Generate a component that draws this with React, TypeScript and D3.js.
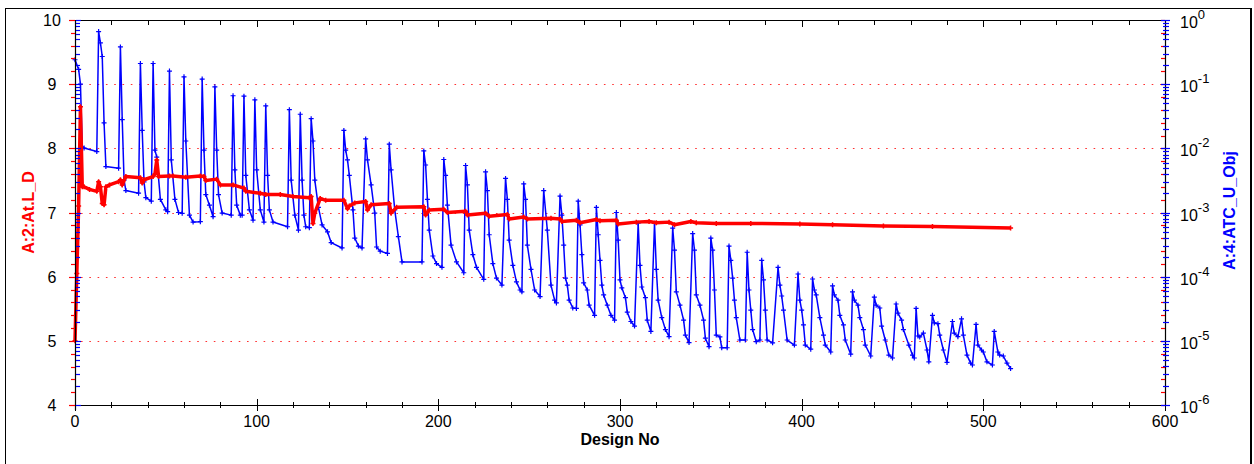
import React from "react";
import * as d3 from "d3";

const W = 1254;
const H = 464;

const xTickValues = [0, 100, 200, 300, 400, 500, 600];
const leftTickValues = [4, 5, 6, 7, 8, 9, 10];
const rightTickExponents = [0, -1, -2, -3, -4, -5, -6];
const xTitle = "Design No";
const leftTitle = "A:2:At.L_D";
const rightTitle = "A:4:ATC_U_Obj";

// A:2:At.L_D  (left axis, linear)
const redSeries: [number, number][] = [
  [0, 5.0], [1, 6.05], [2, 7.1], [3, 8.65], [4, 7.4], [5, 7.4], [8, 7.36], [12, 7.33], [13, 7.48],
  [14, 7.4], [15, 7.14], [16, 7.12], [17, 7.4], [19, 7.43], [24, 7.48], [25, 7.51], [26, 7.43],
  [28, 7.56], [36, 7.54], [37, 7.46], [38, 7.51], [43, 7.56], [44, 7.6], [45, 7.82], [46, 7.56],
  [52, 7.57], [54, 7.57], [61, 7.55], [69, 7.57], [71, 7.56], [72, 7.5], [78, 7.52], [80, 7.43],
  [87, 7.43], [93, 7.38], [94, 7.33], [102, 7.3], [105, 7.28], [113, 7.28], [120, 7.25], [129, 7.23],
  [130, 7.25], [131, 6.83], [132, 6.99], [135, 7.22], [138, 7.19], [148, 7.19], [150, 7.06],
  [151, 7.1], [154, 7.15], [160, 7.17], [161, 7.04], [163, 7.12], [173, 7.14], [174, 6.99],
  [177, 7.08], [192, 7.09], [193, 6.96], [195, 7.04], [203, 7.05], [205, 7.0], [215, 7.02],
  [216, 6.96], [226, 6.99], [228, 6.94], [238, 6.97], [239, 6.9], [247, 6.93], [249, 6.9],
  [262, 6.91], [267, 6.9], [268, 6.86], [276, 6.88], [278, 6.84], [287, 6.89], [289, 6.87],
  [298, 6.88], [299, 6.82], [309, 6.85], [316, 6.86], [320, 6.84], [327, 6.85], [330, 6.81],
  [339, 6.86], [342, 6.84], [353, 6.83], [372, 6.83], [399, 6.82], [417, 6.81], [445, 6.79],
  [472, 6.78], [515, 6.76],
];

// A:4:ATC_U_Obj  (right axis, log)
const blueSeries: [number, number][] = [
  [0, 0.24], [2, 0.17], [3, 0.1], [4, 0.0105], [5, 0.0101], [12, 0.0089],
  [13, 0.66], [14, 0.44], [15, 0.27], [16, 0.025], [17, 0.0052], [24, 0.0049],
  [25, 0.38], [26, 0.028], [27, 0.0032], [28, 0.0022], [35, 0.002],
  [36, 0.21], [37, 0.019], [38, 0.003], [39, 0.0017], [42, 0.0015],
  [43, 0.21], [44, 0.0094], [45, 0.0073], [47, 0.0016], [50, 0.0011], [51, 0.00103],
  [52, 0.16], [53, 0.0066], [55, 0.0016], [57, 0.001], [59, 0.00097],
  [60, 0.13], [61, 0.013], [63, 0.00091], [65, 0.00071], [69, 0.00072],
  [70, 0.12], [71, 0.0094], [72, 0.0019], [74, 0.0013], [76, 0.00086],
  [77, 0.091], [78, 0.0094], [79, 0.0019], [81, 0.00098], [86, 0.00091],
  [87, 0.066], [88, 0.0046], [89, 0.0013], [91, 0.00091], [92, 0.00091],
  [93, 0.065], [94, 0.0038], [96, 0.0011], [98, 0.00076],
  [99, 0.057], [100, 0.0046], [102, 0.0011], [104, 0.00071],
  [105, 0.046], [106, 0.0038], [107, 0.0011], [109, 0.00071], [117, 0.0006],
  [118, 0.04], [119, 0.0032], [121, 0.00091], [123, 0.00053],
  [124, 0.034], [125, 0.0032], [126, 0.00091], [127, 0.0006], [129, 0.00058],
  [130, 0.029], [131, 0.013], [132, 0.0032], [134, 0.0012], [136, 0.00064], [139, 0.0005], [141, 0.00034], [147, 0.00028],
  [148, 0.019], [149, 0.0094], [150, 0.0066], [151, 0.0038], [153, 0.0011], [154, 0.0004], [156, 0.0003], [158, 0.00028],
  [160, 0.014], [161, 0.0066], [163, 0.0027], [165, 0.00098], [166, 0.00029], [168, 0.00025], [172, 0.00023],
  [173, 0.0116], [174, 0.0046], [176, 0.0011], [178, 0.00042], [180, 0.00017], [191, 0.00017],
  [192, 0.0091], [193, 0.0055], [194, 0.0016], [195, 0.00053], [197, 0.00021], [199, 0.00016], [202, 0.00014],
  [203, 0.0067], [204, 0.0038], [205, 0.0013], [207, 0.00031], [210, 0.00017], [214, 0.000115],
  [215, 0.0054], [216, 0.0027], [217, 0.00053], [219, 0.00022], [221, 0.00014], [225, 9.1e-5],
  [226, 0.0043], [227, 0.0022], [228, 0.00045], [230, 0.00016], [232, 9.5e-5], [235, 7.4e-5],
  [237, 0.0034], [238, 0.0016], [239, 0.00037], [241, 0.00015], [243, 8.3e-5], [245, 6.2e-5], [246, 5.8e-5],
  [247, 0.0028], [248, 0.0016], [249, 0.00031], [251, 0.00013], [253, 6.2e-5], [256, 4.9e-5],
  [258, 0.0022], [260, 0.00053], [262, 7.4e-5], [264, 4.3e-5], [265, 3.9e-5],
  [267, 0.0018], [268, 0.00091], [269, 0.00031], [270, 9.5e-5], [271, 7.4e-5], [272, 4.3e-5], [274, 3.25e-5], [276, 3.2e-5],
  [277, 0.0015], [278, 0.00064], [279, 0.00022], [280, 8.0e-5], [282, 6.2e-5], [283, 3.6e-5], [286, 2.5e-5],
  [287, 0.0012], [288, 0.00045], [289, 0.00018], [290, 7.4e-5], [291, 5.2e-5], [293, 3.6e-5], [295, 2.5e-5], [297, 2.1e-5],
  [298, 0.001], [299, 0.00037], [300, 8.9e-5], [301, 6.7e-5], [303, 4.7e-5], [304, 2.8e-5], [306, 2.0e-5], [308, 1.7e-5],
  [310, 0.00068], [311, 0.00015], [312, 6.9e-5], [314, 4.7e-5], [315, 2.1e-5], [317, 1.4e-5],
  [319, 0.00068], [320, 0.00013], [321, 4.3e-5], [323, 2.3e-5], [325, 1.5e-5], [327, 1.16e-5],
  [329, 0.00057], [330, 0.00026], [331, 5.8e-5], [333, 3.6e-5], [335, 2.1e-5], [336, 1.23e-5], [338, 9.4e-6],
  [340, 0.00047], [341, 0.00026], [342, 5.2e-5], [344, 3.6e-5], [346, 2.1e-5], [347, 1.1e-5], [349, 8.1e-6],
  [350, 0.0004], [351, 0.00026], [352, 6.2e-5], [353, 1.23e-5], [355, 1.15e-5], [356, 7.8e-6], [359, 7.8e-6],
  [360, 0.0003], [361, 0.00018], [362, 9.5e-5], [363, 4.3e-5], [364, 2.3e-5], [366, 1.03e-5], [369, 1.03e-5],
  [370, 0.00024], [371, 6.2e-5], [372, 3.0e-5], [373, 1.5e-5], [375, 9.7e-6], [377, 1.03e-5],
  [378, 0.00018], [379, 8.9e-5], [380, 3.0e-5], [381, 1.03e-5], [384, 9.3e-6],
  [387, 0.00014], [388, 7.4e-5], [389, 5.0e-5], [390, 3.0e-5], [392, 1.03e-5], [396, 8.6e-6],
  [398, 0.00011], [399, 4.3e-5], [400, 3.0e-5], [401, 1.77e-5], [402, 8.6e-6], [405, 7.4e-6],
  [406, 9.2e-5], [407, 6.2e-5], [408, 5.2e-5], [410, 2.3e-5], [412, 1.23e-5], [413, 8.6e-6], [416, 6.7e-6],
  [417, 7.2e-5], [418, 5.2e-5], [420, 4.3e-5], [421, 2.5e-5], [423, 1.77e-5], [424, 1.03e-5], [427, 6.2e-6],
  [428, 5.8e-5], [429, 4.3e-5], [431, 3.6e-5], [432, 2.3e-5], [434, 1.5e-5], [435, 8.6e-6], [438, 5.8e-6],
  [440, 4.8e-5], [441, 3.6e-5], [443, 3.25e-5], [444, 1.7e-5], [446, 1.03e-5], [448, 6.0e-6], [450, 5.4e-6],
  [452, 3.75e-5], [453, 2.7e-5], [455, 2.1e-5], [456, 1.5e-5], [459, 8.6e-6], [461, 6.0e-6], [462, 5.4e-6],
  [463, 3.2e-5], [464, 1.19e-5], [465, 1.15e-5], [467, 1.32e-5], [469, 7.2e-6], [470, 4.7e-6],
  [472, 2.5e-5], [473, 1.9e-5], [475, 1.85e-5], [476, 1.23e-5], [478, 7.2e-6], [480, 4.6e-6],
  [483, 2.0e-5], [484, 1.32e-5], [486, 1.16e-5],
  [488, 2.2e-5], [489, 1.23e-5], [491, 6.0e-6], [493, 4.5e-6], [494, 4.2e-6],
  [496, 1.8e-5], [497, 8.6e-6], [499, 7.2e-6], [500, 6.7e-6], [502, 4.7e-6], [505, 4.2e-6],
  [506, 1.4e-5], [508, 6.7e-6], [509, 6.0e-6], [511, 5.8e-6], [513, 4.5e-6], [515, 3.7e-6],
];

const FONT = "'Liberation Sans', Arial, sans-serif";
const RED = "#ff0000";
const BLUE = "#0000ff";

function crossPath(pts: [number, number][], r: number) {
  return pts.map(([cx, cy]) => `M${cx - r},${cy}h${2 * r}M${cx},${cy - r}v${2 * r}`).join("");
}

export default function App() {
  const left = 75, right = 1165, top = 20, bottom = 405;
  const x = d3.scaleLinear().domain([0, 600]).range([left, right]);
  const yL = d3.scaleLinear().domain([4, 10]).range([bottom, top]);
  const yR = d3.scaleLog().domain([1e-6, 1]).range([bottom, top]);

  const redLine = d3.line<[number, number]>().x((d) => x(d[0])).y((d) => yL(d[1]));
  const blueLine = d3.line<[number, number]>().x((d) => x(d[0])).y((d) => yR(d[1]));

  const xMinor = d3.range(0, 601, 20);
  const leftMinor = d3.range(0, 31).map((i) => 4 + i * 0.2);
  const logMajor = rightTickExponents.map((e) => Math.pow(10, e));
  const logMinor: number[] = [];
  for (let e = -6; e < 0; e++) for (let k = 2; k <= 9; k++) logMinor.push(k * Math.pow(10, e));

  const gridVals = leftTickValues.filter((v) => v > 4 && v < 10);

  const redPts = redSeries.map((d) => [x(d[0]), yL(d[1])] as [number, number]);
  const bluePts = blueSeries.map((d) => [x(d[0]), yR(d[1])] as [number, number]);

  return (
    <svg
      width={W}
      height={H}
      style={{ position: "absolute", left: 0, top: 0, background: "#fff" }}
      fontFamily={FONT}
    >
      <rect x={0} y={0} width={W} height={H} fill="#fff" />
      {/* outer frame */}
      <line x1={5} x2={1252} y1={8.5} y2={8.5} stroke="#000" strokeWidth={1} />
      <line x1={5.5} x2={5.5} y1={8} y2={H} stroke="#000" strokeWidth={1} />
      <line x1={1251} x2={1251} y1={8} y2={H} stroke="#000" strokeWidth={2} />

      {/* dotted grid */}
      {gridVals.map((v) => (
        <line
          key={"g" + v}
          x1={left + 6}
          x2={right}
          y1={Math.round(yL(v)) + 0.5}
          y2={Math.round(yL(v)) + 0.5}
          stroke="#ff3030"
          strokeWidth={1.2}
          strokeDasharray="1.6 6.7"
        />
      ))}

      {/* blue series */}
      <path d={blueLine(blueSeries) || ""} fill="none" stroke={BLUE} strokeWidth={1.5} strokeLinejoin="round" />
      <path d={crossPath(bluePts, 2.5)} fill="none" stroke={BLUE} strokeWidth={1.2} />

      {/* red series */}
      <path d={redLine(redSeries) || ""} fill="none" stroke={RED} strokeWidth={3.5} strokeLinejoin="round" />
      <path d={crossPath(redPts, 2.5)} fill="none" stroke={RED} strokeWidth={1.5} />

      {/* plot frame */}
      <line x1={left} x2={right} y1={top + 0.5} y2={top + 0.5} stroke="#000" strokeWidth={1} />
      <line x1={left} x2={right + 1} y1={bottom + 0.5} y2={bottom + 0.5} stroke="#000" strokeWidth={1.2} />
      <line x1={left + 0.5} x2={left + 0.5} y1={top} y2={bottom + 5} stroke="#000" strokeWidth={1.2} />
      <line x1={right + 0.5} x2={right + 0.5} y1={top} y2={bottom + 1} stroke="#000" strokeWidth={1.2} />

      {/* x ticks */}
      {xMinor.map((v) => {
        const major = v % 100 === 0;
        const px = Math.round(x(v)) + 0.5;
        return (
          <g key={"xt" + v}>
            <line x1={px} x2={px} y1={major ? bottom - 6 : bottom - 3} y2={major ? bottom + 6 : bottom + 3} stroke="#000" strokeWidth={1} />
            <line x1={px} x2={px} y1={top} y2={major ? top + 7 : top + 5} stroke="#000" strokeWidth={1} />
          </g>
        );
      })}
      {xTickValues.map((v) => (
        <text key={"xl" + v} x={x(v)} y={427} fontSize={16} textAnchor="middle" fill="#000">
          {v}
        </text>
      ))}
      <text x={(left + right) / 2} y={445} fontSize={16} fontWeight="bold" textAnchor="middle" fill="#000">
        {xTitle}
      </text>

      {/* left axis ticks: red (own scale) outside, blue (log) inside */}
      {leftMinor.map((v, i) => {
        const py = Math.round(yL(v)) + 0.5;
        const major = i % 5 === 0;
        return (
          <g key={"lt" + i}>
            <line x1={major ? left - 6 : left - 4} x2={left} y1={py} y2={py} stroke={RED} strokeWidth={1.2} />
            <line x1={right - 4} x2={right} y1={py} y2={py} stroke={RED} strokeWidth={1.2} />
          </g>
        );
      })}
      {logMinor.map((v, i) => {
        const py = Math.round(yR(v)) + 0.5;
        return (
          <g key={"rt" + i}>
            <line x1={left + 1} x2={left + 5} y1={py} y2={py} stroke={BLUE} strokeWidth={1.2} />
            <line x1={right - 2} x2={right + 4} y1={py} y2={py} stroke={BLUE} strokeWidth={1.2} />
          </g>
        );
      })}
      {logMajor.map((v, i) => {
        const py = Math.round(yR(v)) + 0.5;
        return (
          <g key={"rM" + i}>
            <line x1={left + 1} x2={left + 6} y1={py} y2={py} stroke={BLUE} strokeWidth={1.2} />
            <line x1={right - 4} x2={right + 5} y1={py} y2={py} stroke={BLUE} strokeWidth={1.2} />
          </g>
        );
      })}

      {/* left tick labels */}
      {leftTickValues.map((v) => (
        <text key={"ll" + v} x={52} y={yL(v) + 6} fontSize={16} textAnchor="middle" fill="#000">
          {v}
        </text>
      ))}
      {/* right tick labels */}
      {rightTickExponents.map((e) => {
        const py = yR(Math.pow(10, e));
        return (
          <text key={"rl" + e} x={1180} y={py + 8} fontSize={16} fill="#000">
            10
            <tspan dy={-9} fontSize={13}>
              {e}
            </tspan>
          </text>
        );
      })}

      {/* axis titles */}
      <text transform={`translate(34,${(top + bottom) / 2}) rotate(-90)`} fontSize={16} fontWeight="bold" textAnchor="middle" fill={RED}>
        {leftTitle}
      </text>
      <text transform={`translate(1235,${(top + bottom) / 2 - 2}) rotate(-90)`} fontSize={16} fontWeight="bold" textAnchor="middle" fill={BLUE}>
        {rightTitle}
      </text>
    </svg>
  );
}
